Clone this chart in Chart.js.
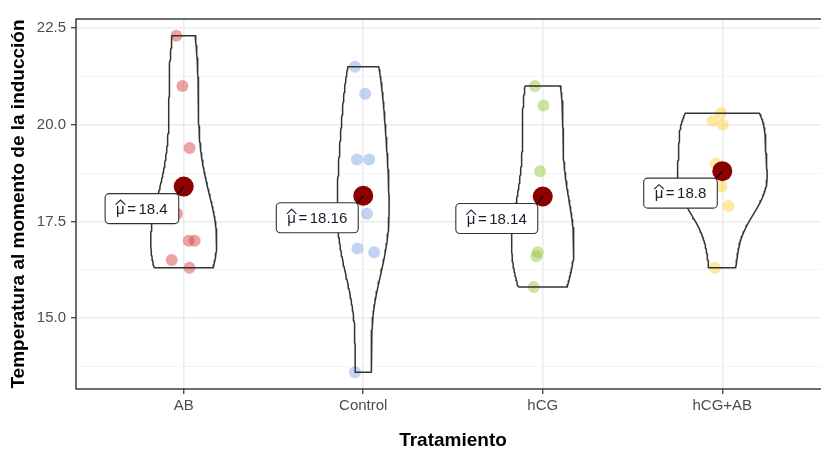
<!DOCTYPE html>
<html>
<head>
<meta charset="utf-8">
<script src="https://cdn.jsdelivr.net/npm/chart.js@4.4.1/dist/chart.umd.min.js"></script>
<style>
  html, body { margin: 0; padding: 0; background: #fff; overflow: hidden; }
  canvas { display: block; }
</style>
</head>
<body>
<canvas id="c" width="840" height="453"></canvas>
<script>
// Temperature at induction by treatment group
const categories = ['AB', 'Control', 'hCG', 'hCG+AB'];

const abValues      = [22.3, 21.0, 19.4, 17.7, 17.0, 17.0, 16.5, 16.3];
const abJitter      = [-0.041, -0.007, 0.033, -0.037, 0.028, 0.061, -0.067, 0.032];
const controlValues = [21.5, 20.8, 19.1, 19.1, 17.7, 16.8, 16.7, 13.6];
const controlJitter = [-0.046, 0.011, -0.035, 0.033, 0.021, -0.032, 0.061, -0.046];
const hcgValues     = [21.0, 20.5, 18.8, 17.6, 16.7, 16.6, 15.8];
const hcgJitter     = [-0.044, 0.004, -0.015, -0.075, -0.028, -0.035, -0.050];
const hcgAbValues   = [20.3, 20.1, 20.0, 19.0, 18.4, 18.4, 17.9, 16.3];
const hcgAbJitter   = [-0.007, -0.054, 0.002, -0.037, -0.004, -0.075, 0.035, -0.041];

const yTickLabels = [15.0, 17.5, 20.0, 22.5];

const pointColors = ['rgba(215,71,71,0.5)', 'rgba(135,169,229,0.5)', 'rgba(155,199,65,0.5)', 'rgba(251,211,65,0.5)'];

const groupValues = [abValues, controlValues, hcgValues, hcgAbValues];
const groupJitter = [abJitter, controlJitter, hcgJitter, hcgAbJitter];

// ---- statistics ----
const mean = v => v.reduce((a, b) => a + b, 0) / v.length;
function quantile7(sorted, p) {
  const h = (sorted.length - 1) * p, lo = Math.floor(h), hi = Math.min(lo + 1, sorted.length - 1);
  return sorted[lo] + (h - lo) * (sorted[hi] - sorted[lo]);
}
function bwNrd0(v) {
  const n = v.length, m = mean(v);
  const sd = Math.sqrt(v.reduce((a, b) => a + (b - m) ** 2, 0) / (n - 1));
  const s = [...v].sort((a, b) => a - b);
  const iqr = quantile7(s, 0.75) - quantile7(s, 0.25);
  let lo = Math.min(sd, iqr / 1.34);
  if (!(lo > 0)) lo = sd || Math.abs(s[0]) || 1;
  return 0.9 * lo * Math.pow(n, -0.2);
}
function density(v, bw, y) {
  let s = 0;
  for (const x of v) { const z = (y - x) / bw; s += Math.exp(-0.5 * z * z); }
  return s / (v.length * bw * Math.sqrt(2 * Math.PI));
}

// trimmed violin outlines, widths scaled by the largest density of all groups
const N = 96;
const curves = groupValues.map(v => {
  const bw = bwNrd0(v), lo = Math.min(...v), hi = Math.max(...v);
  const pts = [];
  for (let k = 0; k < N; k++) {
    const y = lo + (hi - lo) * k / (N - 1);
    pts.push({ y, d: density(v, bw, y) });
  }
  return pts;
});
const maxDens = Math.max(...curves.flat().map(p => p.d));
const violinHalf = 0.25;
const violinData = curves.map((pts, i) => {
  const c = i + 1;
  const left = pts.map(p => ({ x: c - p.d / maxDens * violinHalf, y: p.y }));
  const right = pts.slice().reverse().map(p => ({ x: c + p.d / maxDens * violinHalf, y: p.y }));
  return [...left, ...right, left[0]];
});

const means = groupValues.map(mean);
const meanText = means.map(m => String(parseFloat(m.toFixed(2))));

const allValues = groupValues.flat();
const dMin = Math.min(...allValues), dMax = Math.max(...allValues);
const yMin = dMin - 0.05 * (dMax - dMin), yMax = dMax + 0.05 * (dMax - dMin);

const yMinor = yTickLabels.map(t => t - 1.25);
const yAllTicks = [...yMinor, ...yTickLabels].sort((a, b) => a - b);
const isMajor = v => yTickLabels.some(t => Math.abs(t - v) < 1e-6);

const FONT = '"Liberation Sans", Arial, Helvetica, sans-serif';
Chart.defaults.font.family = FONT;

const datasets = [];
groupValues.forEach((v, i) => {
  datasets.push({
    type: 'scatter', order: 2,
    data: v.map((y, k) => ({ x: i + 1 + groupJitter[i][k], y })),
    backgroundColor: pointColors[i], borderWidth: 0, pointRadius: 6, pointHoverRadius: 6
  });
});
violinData.forEach(d => {
  datasets.push({
    type: 'scatter', order: 1, data: d, showLine: true, fill: false, tension: 0,
    borderColor: '#333333', borderWidth: 1.5, borderJoinStyle: 'round',
    pointRadius: 0, pointHoverRadius: 0
  });
});
datasets.push({
  type: 'scatter', order: 0,
  data: means.map((m, i) => ({ x: i + 1, y: m })),
  backgroundColor: '#8B0000', borderWidth: 0, pointRadius: 10, pointHoverRadius: 10
});

// panel border and the mean labels
const panelAndLabels = {
  id: 'panelAndLabels',
  afterDatasetsDraw(chart) {
    const { ctx, chartArea: a, scales: { x, y } } = chart;
    ctx.save();
    ctx.strokeStyle = '#333333';
    ctx.lineWidth = 1.4;
    ctx.strokeRect(a.left, a.top, a.right - a.left, a.bottom - a.top);

    ctx.font = '15px ' + FONT;
    means.forEach((m, i) => {
      const mx = x.getPixelForValue(i + 1), my = y.getPixelForValue(m);
      const num = meanText[i];
      const muW = ctx.measureText('μ').width;
      const eqW = ctx.measureText('=').width;
      const numW = ctx.measureText(num).width;
      const gap = 2.5, padX = 11, h = 30;
      const w = padX * 2 + muW + gap + eqW + gap + numW;
      const right = mx - 5, top = my + 7, left = right - w;

      ctx.strokeStyle = '#000';
      ctx.lineWidth = 1.1;
      ctx.beginPath(); ctx.moveTo(mx, my); ctx.lineTo(right - 3, top + 3); ctx.stroke();

      ctx.beginPath();
      ctx.roundRect(left, top, w, h, 4);
      ctx.fillStyle = '#ffffff'; ctx.fill();
      ctx.strokeStyle = '#333333'; ctx.lineWidth = 1.1; ctx.stroke();

      const base = top + 20;
      ctx.fillStyle = '#1b1b2b';
      ctx.textAlign = 'left'; ctx.textBaseline = 'alphabetic';
      let tx = left + padX;
      ctx.fillText('μ', tx, base);
      ctx.beginPath();
      ctx.moveTo(tx - 0.5, top + 11); ctx.lineTo(tx + muW / 2, top + 6.5); ctx.lineTo(tx + muW + 0.5, top + 11);
      ctx.strokeStyle = '#1b1b2b'; ctx.lineWidth = 1.1; ctx.stroke();
      tx += muW + gap;
      ctx.fillText('=', tx, base);
      tx += eqW + gap;
      ctx.fillText(num, tx, base);
    });
    ctx.restore();
  }
};

new Chart(document.getElementById('c'), {
  type: 'scatter',
  data: { datasets },
  options: {
    responsive: false,
    animation: false,
    events: [],
    devicePixelRatio: 1,
    layout: { padding: { top: 19, right: 8, left: 0, bottom: 0 } },
    plugins: { legend: { display: false }, tooltip: { enabled: false } },
    scales: {
      x: {
        type: 'linear', min: 0.4, max: 4.6,
        afterBuildTicks: s => { s.ticks = categories.map((_, i) => ({ value: i + 1 })); },
        afterFit: s => { s.height = 64; },
        ticks: { callback: v => categories[Math.round(v) - 1], color: '#4D4D4D', font: { size: 15 }, padding: 3, maxRotation: 0 },
        grid: { color: '#EBEBEB', lineWidth: 1.5, tickLength: 5, tickColor: '#333333', tickWidth: 1.2 },
        border: { display: false },
        title: { display: true, text: 'Tratamiento', color: '#000', font: { size: 19, weight: 'bold' }, padding: { top: 0, bottom: 1 } }
      },
      y: {
        type: 'linear', min: yMin, max: yMax,
        afterBuildTicks: s => { s.ticks = yAllTicks.map(v => ({ value: v })); },
        afterFit: s => { s.width = 76; },
        ticks: { callback: v => isMajor(v) ? v.toFixed(1) : '', color: '#4D4D4D', font: { size: 15 }, padding: 5 },
        grid: {
          color: c => isMajor(c.tick.value) ? '#EBEBEB' : '#F3F3F3',
          lineWidth: c => isMajor(c.tick.value) ? 1.5 : 1,
          tickLength: 5,
          tickColor: c => isMajor(c.tick.value) ? '#333333' : 'rgba(0,0,0,0)',
          tickWidth: 1.2
        },
        border: { display: false },
        title: { display: true, text: 'Temperatura al momento de la inducción', color: '#000', font: { size: 19, weight: 'bold' }, padding: { top: 7, bottom: 0 } }
      }
    }
  },
  plugins: [panelAndLabels]
});
</script>
</body>
</html>
